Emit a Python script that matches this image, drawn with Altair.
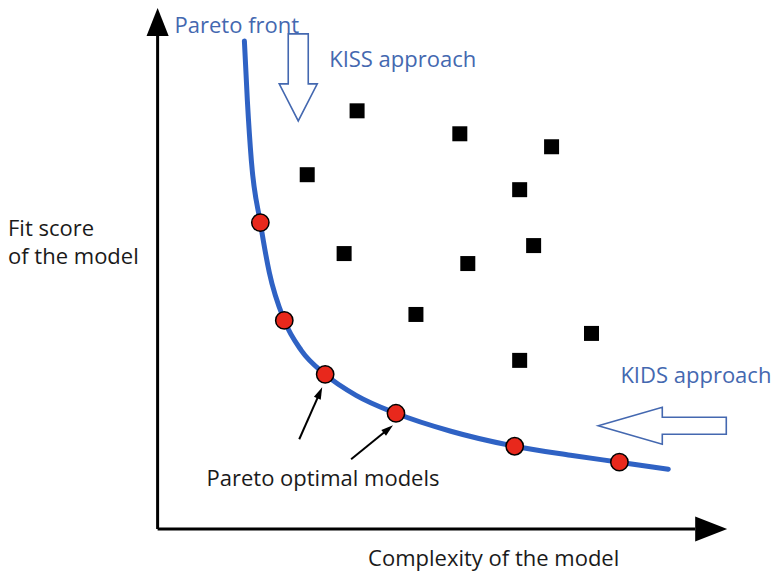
import altair as alt
import pandas as pd
import math

# Coordinate system: data units laid out on the 780x581 canvas (x to the right, y downwards)
W, H = 764, 565
X0, X1 = 8, 772
Y0, Y1 = 8, 573

# Pareto front curve
curve_x = [243, 246, 250, 259, 268, 283, 300, 324, 355, 395, 450, 514, 570, 619, 668]
curve_y = [40, 100, 160, 222, 272, 320, 350, 374, 395, 413, 431, 446, 455, 462, 469]

# Pareto optimal models (red dots)
opt_x = [259, 283, 324, 395, 514, 619]
opt_y = [222, 320, 374, 413, 446, 462]

# Other (dominated) models (black squares)
sq_x = [356, 459, 551, 306, 519, 533, 343, 467, 415, 591, 519]
sq_y = [110, 133, 146, 174, 189, 245, 253, 263, 314, 333, 360]

# Axes
axis_origin = (156, 529)
y_axis_top = 35
x_axis_end = 695

# Text labels
labels = ["Pareto front", "KISS approach", "KIDS approach", "Pareto optimal models",
          "Fit score", "of the model", "Complexity of the model"]
label_x = [173, 328, 620, 205, 6, 6, 367]
label_y = [32, 66, 383, 486, 235, 263, 566]
label_color = ["blue", "blue", "blue", "black", "black", "black", "black"]

# Small pointer arrows (tail -> tip)
ptr_tail_x = [298, 350]
ptr_tail_y = [439, 459]
ptr_tip_x = [321, 392]
ptr_tip_y = [387, 425]

BLUE_TXT = "#4468B0"
BLUE_LINE = "#2F62C4"
RED = "#E8281C"
FONT = "Open Sans"
FS = 22

xs = alt.Scale(domain=[X0, X1])
ys = alt.Scale(domain=[Y1, Y0])

def X(f):
    return alt.X(f, type="quantitative", scale=xs, axis=None)

def Y(f):
    return alt.Y(f, type="quantitative", scale=ys, axis=None)

# axis lines
axes_df = pd.DataFrame({
    "x": [axis_origin[0], axis_origin[0]],
    "y": [axis_origin[1], axis_origin[1]],
    "x2": [axis_origin[0], x_axis_end],
    "y2": [y_axis_top, axis_origin[1]],
})
axes = alt.Chart(axes_df).mark_rule(color="black", strokeWidth=3).encode(
    x=X("x"), y=Y("y"), x2="x2", y2="y2")

# axis arrowheads
yhead = alt.Chart(pd.DataFrame({"x": [156], "y": [21]})).mark_point(
    shape="M0,-1L0.79,1L-0.79,1Z", filled=True, color="black", opacity=1, size=28 * 28
).encode(x=X("x"), y=Y("y"))
xhead = alt.Chart(pd.DataFrame({"x": [711], "y": [529]})).mark_point(
    shape="M1,0L-1,-0.78L-1,0.78Z", filled=True, color="black", opacity=1, size=32 * 32
).encode(x=X("x"), y=Y("y"))

# Pareto curve
curve = alt.Chart(pd.DataFrame({"x": curve_x, "y": curve_y, "o": list(range(len(curve_x)))})).mark_line(
    color=BLUE_LINE, strokeWidth=5, interpolate="monotone", strokeCap="round"
).encode(x=X("x"), y=Y("y"), order="o:Q")

# squares
squares = alt.Chart(pd.DataFrame({"x": sq_x, "y": sq_y})).mark_point(
    shape="square", filled=True, color="black", opacity=1, size=225
).encode(x=X("x"), y=Y("y"))

# red dots
dots = alt.Chart(pd.DataFrame({"x": opt_x, "y": opt_y})).mark_point(
    shape="circle", filled=True, fill=RED, stroke="black", strokeWidth=1.5, opacity=1, size=300
).encode(x=X("x"), y=Y("y"))

# hollow KISS arrow (down) and KIDS arrow (left)
kiss = alt.Chart(pd.DataFrame({"x": [297], "y": [76.5]})).mark_point(
    shape="M-0.23,-1L0.23,-1L0.23,0.149L0.437,0.149L0,1L-0.437,0.149L-0.23,0.149Z",
    filled=False, stroke=BLUE_TXT, strokeWidth=1.6, opacity=1, size=87 * 87
).encode(x=X("x"), y=Y("y"))
kids = alt.Chart(pd.DataFrame({"x": [662], "y": [425.5]})).mark_point(
    shape="M-1,0L0,-0.289L0,-0.133L1,-0.133L1,0.133L0,0.133L0,0.289Z",
    filled=False, stroke=BLUE_TXT, strokeWidth=1.6, opacity=1, size=128 * 128
).encode(x=X("x"), y=Y("y"))

# pointer arrows
head_len = 12
hx, hy, ang, sx, sy = [], [], [], [], []
for tx, ty, px, py in zip(ptr_tail_x, ptr_tail_y, ptr_tip_x, ptr_tip_y):
    dx, dy = px - tx, py - ty
    L = math.hypot(dx, dy)
    ux, uy = dx / L, dy / L
    hx.append(px - ux * head_len / 2)
    hy.append(py - uy * head_len / 2)
    sx.append(px - ux * head_len * 0.8)
    sy.append(py - uy * head_len * 0.8)
    ang.append(math.degrees(math.atan2(dx, -dy)) % 360)
ptr_df = pd.DataFrame({"x": ptr_tail_x, "y": ptr_tail_y, "x2": sx, "y2": sy})
ptr_lines = alt.Chart(ptr_df).mark_rule(color="black", strokeWidth=2).encode(
    x=X("x"), y=Y("y"), x2="x2", y2="y2")
ptr_heads = alt.Chart(pd.DataFrame({"x": hx, "y": hy, "a": ang})).mark_point(
    shape="M0,-1L0.62,1L-0.62,1Z", filled=True, color="black", opacity=1, size=head_len * head_len
).encode(x=X("x"), y=Y("y"), angle=alt.Angle("a:Q", scale=None))

# texts
txt_df = pd.DataFrame({"t": labels, "x": label_x, "y": label_y, "c": label_color})
texts = alt.Chart(txt_df).mark_text(
    align="left", baseline="alphabetic", font=FONT, fontSize=FS
).encode(
    x=X("x"), y=Y("y"), text="t:N",
    color=alt.Color("c:N", scale=alt.Scale(domain=["blue", "black"], range=[BLUE_TXT, "#1a1a1a"]), legend=None),
)

chart = alt.layer(axes, yhead, xhead, curve, squares, dots, kiss, kids, ptr_lines, ptr_heads, texts).properties(
    width=W, height=H, padding=0,
    autosize=alt.AutoSizeParams(type="fit", contains="padding"),
).configure_view(stroke=None)

chart.save("out.html", embed_options={"renderer": "svg", "actions": False})
